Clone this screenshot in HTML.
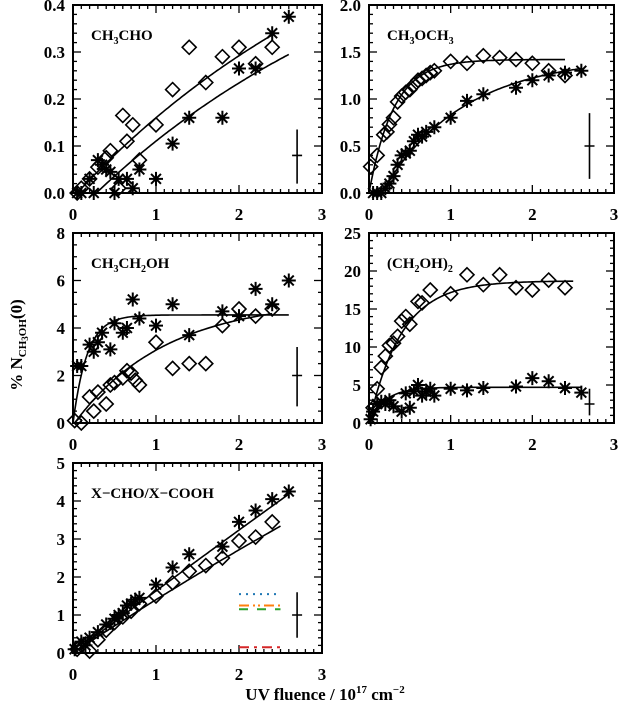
<!DOCTYPE html>
<html><head><meta charset="utf-8"><style>
html,body{margin:0;padding:0;background:#fff;}
svg text{font-family:"Liberation Serif",serif;font-weight:bold;fill:#000;}
</style></head><body>
<svg id="chart" width="625" height="708" viewBox="0 0 625 708" xmlns="http://www.w3.org/2000/svg">
<text transform="translate(22,345) rotate(-90)" text-anchor="middle" font-size="17">% N<tspan font-size="11" dy="4">CH</tspan><tspan font-size="9" dy="2">3</tspan><tspan font-size="11" dy="-2">OH</tspan><tspan dy="-4">(0)</tspan></text>
<text x="325" y="700" text-anchor="middle" font-size="17">UV fluence / 10<tspan font-size="11" dy="-7">17</tspan><tspan dy="7"> cm</tspan><tspan font-size="11" dy="-7">−2</tspan></text>
</svg>
<script>
// ---- data ----
const p1DiamondX=[0.05,0.1,0.2,0.3,0.4,0.45,0.55,0.6,0.65,0.72,0.8,1.0,1.2,1.4,1.6,1.8,2.0,2.2,2.4];
const p1DiamondY=[0.0,0.01,0.03,0.055,0.075,0.09,0.01,0.165,0.11,0.145,0.07,0.145,0.22,0.31,0.235,0.29,0.31,0.275,0.31];
const p1StarX=[0.05,0.1,0.2,0.25,0.3,0.35,0.4,0.45,0.5,0.55,0.65,0.72,0.8,1.0,1.2,1.4,1.8,2.0,2.2,2.4,2.6];
const p1StarY=[0,0,0.03,0,0.07,0.06,0.05,0.045,0.0,0.03,0.03,0.01,0.05,0.03,0.105,0.16,0.16,0.265,0.265,0.34,0.375];
const p2DiamondX=[0.02,0.1,0.18,0.22,0.25,0.3,0.35,0.4,0.45,0.5,0.55,0.6,0.65,0.7,0.75,0.8,1.0,1.2,1.4,1.6,1.8,2.0,2.2,2.4];
const p2DiamondY=[0.28,0.4,0.62,0.65,0.73,0.8,0.97,1.03,1.07,1.1,1.15,1.2,1.22,1.25,1.28,1.3,1.4,1.38,1.46,1.44,1.42,1.38,1.3,1.25];
const p2StarX=[0.05,0.1,0.15,0.2,0.25,0.3,0.35,0.4,0.45,0.5,0.55,0.6,0.65,0.7,0.8,1.0,1.2,1.4,1.8,2.0,2.2,2.4,2.6];
const p2StarY=[0,0,0,0.05,0.1,0.18,0.3,0.4,0.42,0.45,0.55,0.62,0.6,0.65,0.7,0.8,0.98,1.05,1.12,1.2,1.25,1.28,1.3];
const p3StarX=[0.05,0.1,0.2,0.25,0.3,0.35,0.45,0.5,0.6,0.65,0.72,0.8,1.0,1.2,1.4,1.8,2.0,2.2,2.4,2.6];
const p3StarY=[2.4,2.4,3.3,3.0,3.4,3.8,3.1,4.2,3.8,4.0,5.2,4.4,4.1,5.0,3.7,4.7,4.5,5.65,5.0,6.0];
const p3DiamondX=[0.02,0.1,0.2,0.25,0.3,0.4,0.45,0.5,0.6,0.65,0.7,0.75,0.8,1.0,1.2,1.4,1.6,1.8,2.0,2.2,2.4];
const p3DiamondY=[0.1,0,1.1,0.5,1.3,0.8,1.6,1.7,1.9,2.2,2.1,1.8,1.6,3.4,2.3,2.5,2.5,4.1,4.8,4.5,4.8];
const p4DiamondX=[0.05,0.1,0.15,0.2,0.25,0.3,0.35,0.4,0.45,0.5,0.6,0.65,0.75,1.0,1.2,1.4,1.6,1.8,2.0,2.2,2.4];
const p4DiamondY=[2,4.5,7.3,8.8,10.2,10.5,11.4,13.4,14,13,16,15.8,17.5,17,19.5,18.2,19.5,17.8,17.5,18.8,17.8];
const p4StarX=[0.02,0.05,0.1,0.15,0.2,0.25,0.3,0.4,0.45,0.5,0.55,0.6,0.65,0.7,0.75,0.8,1.0,1.2,1.4,1.8,2.0,2.2,2.4,2.6];
const p4StarY=[0.5,1.5,2.5,2.8,2.5,3.0,2.2,1.5,3.9,2.0,4.2,5.0,3.6,4.1,4.5,3.6,4.5,4.3,4.6,4.8,5.9,5.5,4.6,4.0];
const p5StarX=[0.02,0.1,0.15,0.2,0.3,0.4,0.5,0.55,0.6,0.65,0.7,0.75,0.8,1.0,1.2,1.4,1.8,2.0,2.2,2.4,2.6];
const p5StarY=[0.1,0.3,0.2,0.4,0.55,0.75,0.9,1.0,1.05,1.25,1.3,1.4,1.45,1.8,2.25,2.6,2.8,3.45,3.75,4.05,4.25];
const p5DiamondX=[0.05,0.1,0.2,0.3,0.4,0.5,0.6,0.7,0.8,1.0,1.2,1.4,1.6,1.8,2.0,2.2,2.4];
const p5DiamondY=[0.1,0.2,0.05,0.35,0.6,0.8,0.95,1.1,1.3,1.5,1.85,2.15,2.3,2.5,2.95,3.05,3.45];
// fit params: [amplitude, tau, x0, xEnd]
const p1FitA=[0.757,4.0,0.05,2.4]; const p1FitB=[0.67,4.0,0.28,2.6];
const p2FitA=[1.42,0.3,0.0,2.4]; const p2FitB=[1.45,1.0,0.15,2.6];
const p3FitA=[4.55,0.17,0.0,2.6]; const p3FitB=[5.2,1.1,0.02,2.4];
const p4FitA=[18.7,0.4,0.0,2.5]; const p4FitB=[4.7,0.2,0.0,2.6];
const p5FitA=[82.5,50,0.0,2.6]; const p5FitB=[21.75,15,0.0,2.5];
// error bars: [x, yLow, yMid, yHigh]
const p1Err=[2.7,0.02,0.08,0.135]; const p2Err=[2.7,0.15,0.5,0.85];
const p3Err=[2.7,0.7,2,3.2]; const p4Err=[2.7,1,2.5,4.5]; const p5Err=[2.7,0.4,1,1.6];
const xTicks=[0,1,2,3];
const p1YTicks=["0.0","0.1","0.2","0.3","0.4"];
const p2YTicks=["0.0","0.5","1.0","1.5","2.0"];
const p3YTicks=["0","2","4","6","8"];
const p4YTicks=["0","5","10","15","20","25"];
const p5YTicks=["0","1","2","3","4","5"];
const legendYs=[1.55,1.25,1.15,0.15];

const NS="http://www.w3.org/2000/svg";
const svg=document.getElementById('chart');
function mk(tag,attrs,parent){const e=document.createElementNS(NS,tag);for(const k in attrs)e.setAttribute(k,attrs[k]);(parent||svg).appendChild(e);return e;}

function panel(name,box,ymax,yTicks,minorY,label,diaX,diaY,stX,stY,fits,err){
  const g=mk('g',{});
  
  
  const [x0,y0,x1,y1]=box;
  const sx=v=>x0+(v/3)*(x1-x0);
  const sy=v=>y1-(v/ymax)*(y1-y0);
  const frame=mk('rect',{x:x0,y:y0,width:x1-x0,height:y1-y0,fill:'none',stroke:'#000','stroke-width':2},g);
  
  
  for(let i=0;i<=30;i++){const v=i/10;const L=(i%10===0)?8:4;const x=sx(v);
    mk('line',{x1:x,y1:y1,x2:x,y2:y1-L,stroke:'#000','stroke-width':1.3},g);
    mk('line',{x1:x,y1:y0,x2:x,y2:y0+L,stroke:'#000','stroke-width':1.3},g);}
  xTicks.forEach(v=>{const t=mk('text',{x:sx(v),y:y1+27,'text-anchor':'middle','font-size':17},g);t.textContent=v;
    
    });
  const nMaj=yTicks.length-1;
  for(let i=0;i<=nMaj*minorY;i++){const v=i*ymax/(nMaj*minorY);const L=(i%minorY===0)?8:4;const y=sy(v);
    mk('line',{x1:x0,y1:y,x2:x0+L,y2:y,stroke:'#000','stroke-width':1.3},g);
    mk('line',{x1:x1,y1:y,x2:x1-L,y2:y,stroke:'#000','stroke-width':1.3},g);}
  yTicks.forEach((s,i)=>{const t=mk('text',{x:x0-8,y:sy(i*ymax/nMaj)+6,'text-anchor':'end','font-size':17},g);t.textContent=s;
    
    });
  const lab=mk('text',{x:x0+18,y:y0+35,'font-size':15},g);lab.innerHTML=label;
  
  
  fits.forEach((f,fi)=>{const [A,tau,xs,xe]=f;let d='';
    for(let i=0;i<=120;i++){const x=xs+(xe-xs)*i/120;const y=Math.max(0,A*(1-Math.exp(-(x-xs)/tau)));d+=(i?'L':'M')+sx(x).toFixed(1)+','+sy(y).toFixed(1);}
    const p=mk('path',{d:d,fill:'none',stroke:'#000','stroke-width':1.6},g);
    
    });
  diaX.forEach((v,i)=>{const cx=sx(v),cy=sy(diaY[i]),r=7;
    const p=mk('path',{d:`M${cx},${cy-r}L${cx+r},${cy}L${cx},${cy+r}L${cx-r},${cy}Z`,fill:'none',stroke:'#000','stroke-width':1.6},g);
    
    });
  stX.forEach((v,i)=>{const cx=sx(v),cy=sy(stY[i]),r=7;let d='';
    for(let k=0;k<4;k++){const a=k*Math.PI/4;const dx=r*Math.cos(a),dy=r*Math.sin(a);d+=`M${cx-dx},${cy-dy}L${cx+dx},${cy+dy}`;}
    const p=mk('path',{d:d,stroke:'#000','stroke-width':2},g);
    
    });
  const eg=mk('path',{d:`M${sx(err[0])},${sy(err[1])}V${sy(err[3])}M${sx(err[0])-5},${sy(err[2])}H${sx(err[0])+5}`,stroke:'#000','stroke-width':1.6},g);
  
  
  return {sx,sy,g};
}
const L=[73,322],R=[369,614];
panel('panel-ch3cho',[L[0],5,L[1],193],0.4,p1YTicks,5,'CH<tspan font-size="10" dy="4">3</tspan><tspan dy="-4">CHO</tspan>',p1DiamondX,p1DiamondY,p1StarX,p1StarY,[p1FitA,p1FitB],p1Err);
panel('panel-ch3och3',[R[0],5,R[1],193],2.0,p2YTicks,5,'CH<tspan font-size="10" dy="4">3</tspan><tspan dy="-4">OCH</tspan><tspan font-size="10" dy="4">3</tspan>',p2DiamondX,p2DiamondY,p2StarX,p2StarY,[p2FitA,p2FitB],p2Err);
panel('panel-ethanol',[L[0],233,L[1],423],8,p3YTicks,4,'CH<tspan font-size="10" dy="4">3</tspan><tspan dy="-4">CH</tspan><tspan font-size="10" dy="4">2</tspan><tspan dy="-4">OH</tspan>',p3DiamondX,p3DiamondY,p3StarX,p3StarY,[p3FitA,p3FitB],p3Err);
panel('panel-ethylene-glycol',[R[0],233,R[1],423],25,p4YTicks,5,'(CH<tspan font-size="10" dy="4">2</tspan><tspan dy="-4">OH)</tspan><tspan font-size="10" dy="4">2</tspan>',p4DiamondX,p4DiamondY,p4StarX,p4StarY,[p4FitA,p4FitB],p4Err);
const p5=panel('panel-x-cho-x-cooh',[L[0],463,L[1],653],5,p5YTicks,5,'X−CHO/X−COOH',p5DiamondX,p5DiamondY,p5StarX,p5StarY,[p5FitA,p5FitB],p5Err);
const legStyles=[['#1f77b4','2,5'],['#ff7f0e','10,4,2,3,2,4'],['#2ca02c','9,9'],['#d62728','10,5,3,5']];
legendYs.forEach((v,i)=>{const l=mk('line',{x1:p5.sx(2.0),x2:p5.sx(2.5),y1:p5.sy(v),y2:p5.sy(v),stroke:legStyles[i][0],'stroke-width':2,'stroke-dasharray':legStyles[i][1]},p5.g);
  
  });
</script>
</body></html>
